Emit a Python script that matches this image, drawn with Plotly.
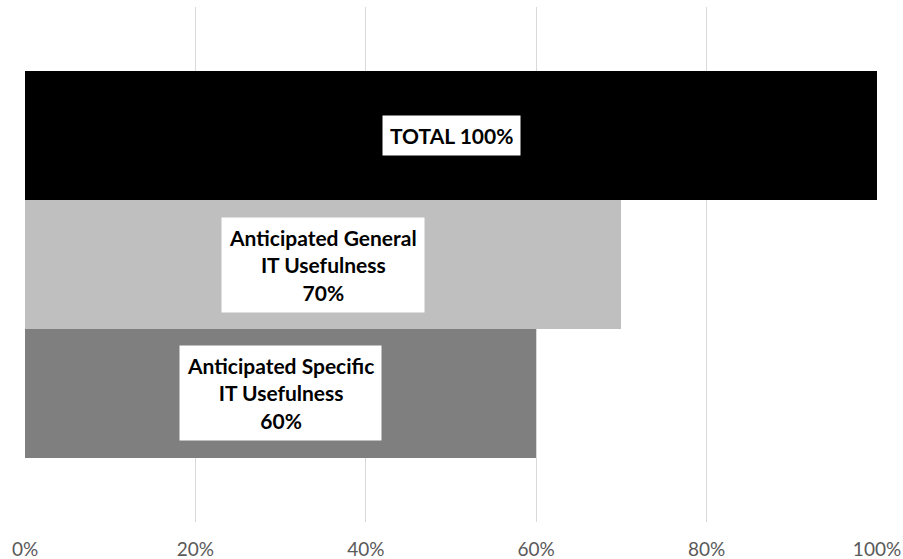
import plotly.graph_objects as go

# Bar data, top to bottom
categories = ["TOTAL", "Anticipated General<br>IT Usefulness", "Anticipated Specific<br>IT Usefulness"]
values = [1.00, 0.70, 0.60]
colors = ["#000000", "#bfbfbf", "#7f7f7f"]
tick_vals = [0, 0.2, 0.4, 0.6, 0.8, 1.0]
tick_text = ["0%", "20%", "40%", "60%", "80%", "100%"]

positions = list(range(len(categories)))
FONT = "Lato, Carlito, Calibri, sans-serif"

fig = go.Figure()
fig.add_trace(go.Bar(
    x=values,
    y=positions,
    orientation="h",
    marker=dict(color=colors, line=dict(width=0)),
    width=1.0,
    hoverinfo="skip",
))

# White label boxes centred in each bar
for cat, v, p in zip(categories, values, positions):
    pct = f"{round(v * 100)}%"
    if cat == "TOTAL":
        text = f"<b>{cat} {pct}</b>"
    else:
        text = f"<b>{cat}<br>{pct}</b>"
    fig.add_annotation(
        x=v / 2, y=p, xref="x", yref="y",
        text=text, showarrow=False,
        font=dict(family=FONT, size=21, color="#000000"),
        bgcolor="#ffffff", borderpad=7, align="center",
    )

fig.update_layout(
    width=903, height=559,
    margin=dict(l=25, r=26, t=7, b=37),
    plot_bgcolor="#ffffff", paper_bgcolor="#ffffff",
    showlegend=False,
    bargap=0,
    xaxis=dict(
        range=[0, 1.0], tickvals=tick_vals, ticktext=tick_text,
        showgrid=True, gridcolor="#d9d9d9", gridwidth=1.3,
        zeroline=False, showline=False, ticks="",
        tickfont=dict(family=FONT, size=19, color="#595959"),
        ticklabelstandoff=14, automargin=False,
    ),
    yaxis=dict(
        range=[2.5 + 0.5, -0.5 - 0.5], showticklabels=False,
        showgrid=False, zeroline=False, showline=False, ticks="",
        automargin=False,
    ),
)

fig.write_html("out.html")
